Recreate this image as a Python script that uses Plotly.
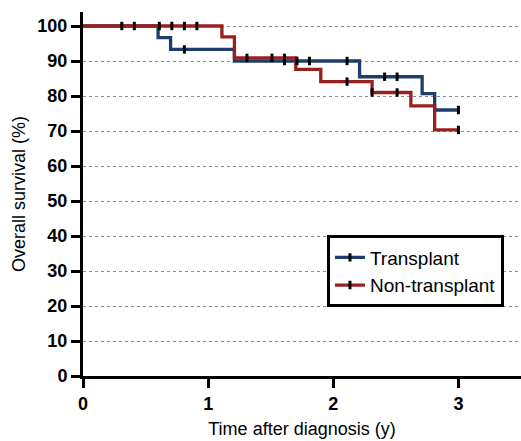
import plotly.graph_objects as go

# Kaplan-Meier step data (time in years, survival %)
transplant_t = [0, 0.60, 0.70, 1.21, 2.21, 2.71, 2.81, 3.0]
transplant_s = [100, 96.7, 93.3, 90.0, 85.5, 80.7, 76.0, 76.0]
nontransplant_t = [0, 1.11, 1.21, 1.70, 1.90, 2.31, 2.62, 2.81, 3.0]
nontransplant_s = [100, 96.9, 90.9, 87.6, 84.1, 81.0, 77.2, 70.3, 70.3]

# censor marks
transplant_cens_t = [0.31, 0.41, 0.81, 1.61, 1.71, 1.81, 2.11, 2.41, 2.51, 3.0]
transplant_cens_s = [100, 100, 93.3, 90.0, 90.0, 90.0, 90.0, 85.5, 85.5, 76.0]
nontransplant_cens_t = [0.61, 0.71, 0.81, 0.91, 1.31, 1.51, 1.61, 2.11, 2.31, 2.51, 3.0]
nontransplant_cens_s = [100, 100, 100, 100, 90.9, 90.9, 90.9, 84.1, 81.0, 81.0, 70.3]

names = ["Transplant", "Non-transplant"]
colors = ["#1f3d6b", "#9a1f1f"]

FONT = "Liberation Sans, Arial, sans-serif"

fig = go.Figure()
series = [
    (transplant_t, transplant_s, transplant_cens_t, transplant_cens_s),
    (nontransplant_t, nontransplant_s, nontransplant_cens_t, nontransplant_cens_s),
]
for i, (t, s, ct, cs) in enumerate(series):
    fig.add_trace(go.Scatter(x=t, y=s, mode="lines", line=dict(color=colors[i], width=3.3, shape="hv"),
                             showlegend=False, hoverinfo="skip"))
for i, (t, s, ct, cs) in enumerate(series):
    fig.add_trace(go.Scatter(x=ct, y=cs, mode="markers",
                             marker=dict(symbol="line-ns", size=6, line=dict(color="black", width=3)),
                             showlegend=False))
for i in range(2):
    fig.add_trace(go.Scatter(x=[None], y=[None], mode="lines+markers", name=names[i],
                             line=dict(color=colors[i], width=3.3),
                             marker=dict(symbol="line-ns", size=6, color="black", line=dict(color="black", width=3))))

fig.update_layout(
    width=521, height=441,
    margin=dict(l=83, r=0, t=12, b=65),
    plot_bgcolor="white", paper_bgcolor="white",
    font=dict(family=FONT, color="black"),
    legend=dict(x=0.557, y=0.386, xanchor="left", yanchor="top",
                bordercolor="black", borderwidth=3, bgcolor="white",
                font=dict(size=19, family=FONT, color="black"),
                tracegroupgap=0, itemwidth=30),
)
fig.update_xaxes(range=[0, 3.5], tickvals=[0, 1, 2, 3], showgrid=False, zeroline=False,
                 showline=True, linecolor="black", linewidth=3, automargin=False,
                 ticks="outside", ticklen=9, tickwidth=3, tickcolor="black",
                 tickfont=dict(size=18, family=FONT, weight="bold"),
                 title=dict(text="Time after diagnosis (y)", font=dict(size=18, family=FONT), standoff=10))
fig.update_yaxes(range=[0, 104], tickvals=list(range(0, 101, 10)), showgrid=True,
                 gridcolor="#888888", gridwidth=1, griddash="dot", zeroline=False,
                 showline=True, linecolor="black", linewidth=3, automargin=False,
                 ticks="outside", ticklen=9, tickwidth=3, tickcolor="black",
                 tickfont=dict(size=18, family=FONT, weight="bold"),
                 title=dict(text="Overall survival (%)", font=dict(size=18, family=FONT), standoff=8))

fig.write_html("out.html", config={"displayModeBar": False},
               post_script="document.body.style.margin='0';document.body.style.overflow='hidden';")
